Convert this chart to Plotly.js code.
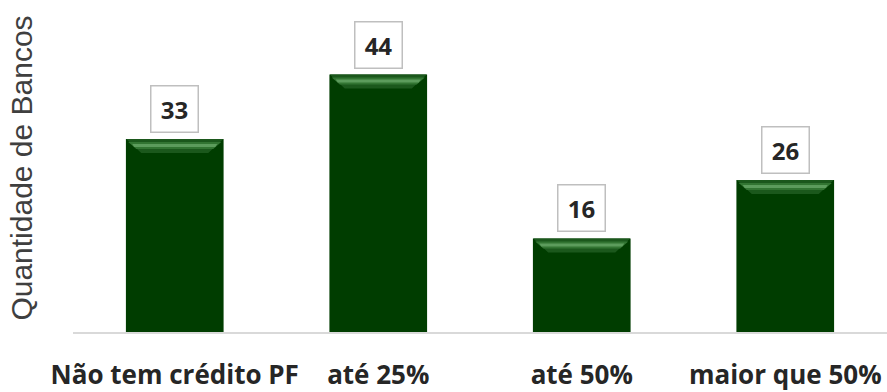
<!DOCTYPE html>
<html>
<head>
<meta charset="utf-8">
<script src="https://cdn.plot.ly/plotly-3.0.1.min.js"></script>
<style>html,body{margin:0;padding:0;background:#fff;}#chart{width:887px;height:392px;}</style>
</head>
<body>
<div id="chart"></div>
<script>
const categories = ["Não tem crédito PF", "até 25%", "até 50%", "maior que 50%"];
const values = [33, 44, 16, 26];
const yTitle = "Quantidade de Bancos";

const barColor = "#003d00";
const halfW = 48.5;

const shapes = [];
values.forEach((v, i) => {
  const common = {type: "path", xref: "x", yref: "y", xsizemode: "pixel", ysizemode: "pixel", xanchor: i, yanchor: v, line: {width: 0}, layer: "above"};
  shapes.push(Object.assign({}, common, {path: `M ${-halfW},0 L ${halfW},0 L ${halfW-15},-14 L ${-halfW+15},-14 Z`, fillcolor: "#1b581c"}));
  shapes.push(Object.assign({}, common, {path: `M ${-halfW+2},-3 L ${halfW-2},-3 L ${halfW-10},-10 L ${-halfW+10},-10 Z`, fillcolor: "#327532"}));
  shapes.push(Object.assign({}, common, {path: `M ${-halfW+6},-5 L ${halfW-6},-5 L ${halfW-8},-8 L ${-halfW+8},-8 Z`, fillcolor: "#5c9c5c"}));
});

const annotations = values.map((v, i) => ({
  x: categories[i], y: v, xref: "x", yref: "y",
  text: String(v), showarrow: false, yanchor: "bottom", yshift: 6,
  font: {family: "Open Sans", size: 24, color: "#262626", weight: "bold"},
  bgcolor: "#ffffff", bordercolor: "#bfbfbf", borderwidth: 1.5, borderpad: 1,
  width: 44, height: 43
}));

const trace = {
  type: "bar", x: categories, y: values,
  marker: {color: barColor, line: {width: 0}},
  hoverinfo: "none"
};

const layout = {
  width: 887, height: 392,
  margin: {l: 73, r: 0, t: 4, b: 60},
  paper_bgcolor: "#fff", plot_bgcolor: "#fff",
  bargap: 0.52,
  showlegend: false,
  xaxis: {
    type: "category",
    showline: true, linecolor: "#d9d9d9", linewidth: 1.5,
    showgrid: false, zeroline: false, ticks: "",
    ticklabelstandoff: 19,
    tickfont: {family: "Open Sans", size: 26, color: "#262626", weight: "bold"}
  },
  yaxis: {
    range: [0, 56.07],
    showgrid: false, zeroline: false, showline: false, showticklabels: false, ticks: "",
    title: {text: yTitle, font: {family: "Liberation Sans", size: 30, color: "#3f3f3f"}, standoff: 30}
  },
  shapes: shapes,
  annotations: annotations
};

Plotly.newPlot("chart", [trace], layout, {displayModeBar: false, staticPlot: true});
</script>
</body>
</html>
